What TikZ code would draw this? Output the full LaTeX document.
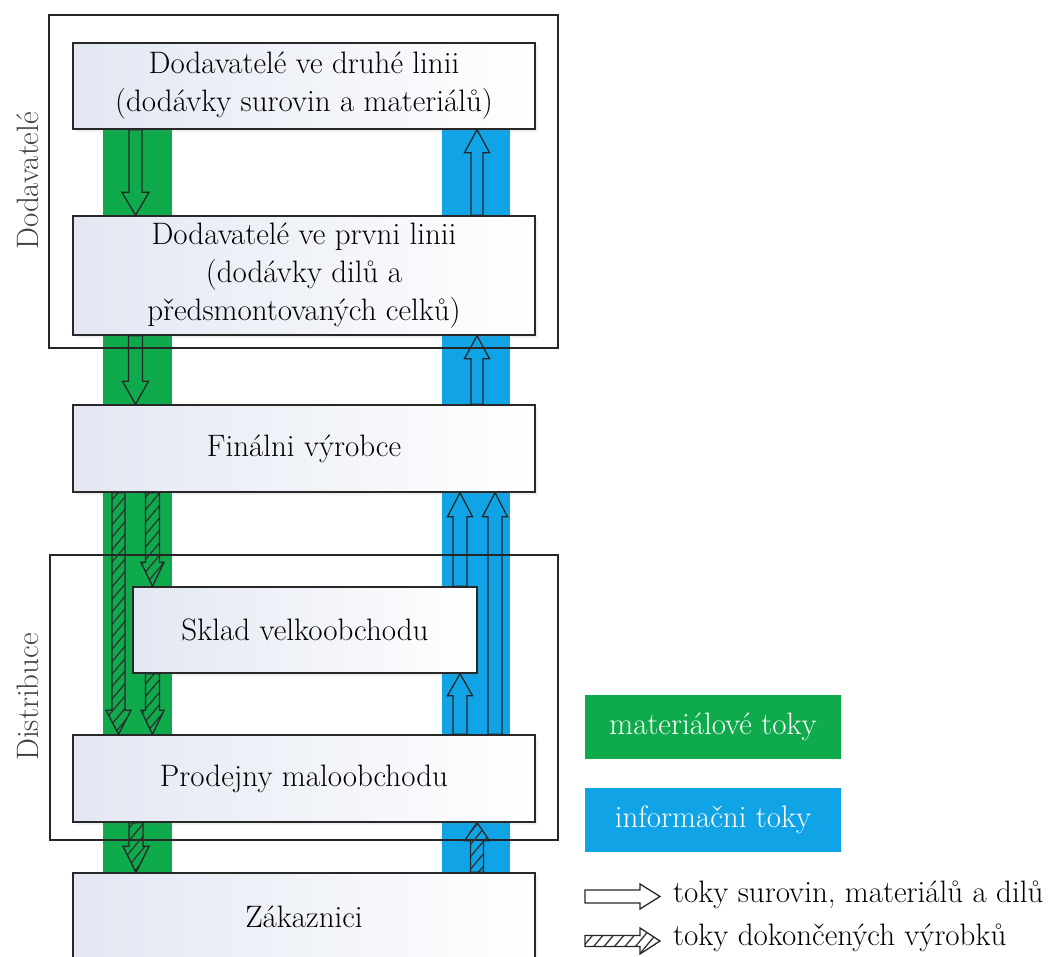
\documentclass[tikz,border=0pt]{standalone}
\usepackage{fontspec}
\usetikzlibrary{calc,patterns.meta,shadows}
\definecolor{gband}{RGB}{14,170,76}
\definecolor{bband}{RGB}{16,164,230}
\definecolor{boxL}{RGB}{226,231,242}
\definecolor{edge}{RGB}{40,40,40}
\newcommand\varrow[6]{\draw[#1] let \p1=(#2), \p2=(#3), \n1={ifthenelse(\y2>\y1,1,-1)} in
  (\x1-#4,\y1) -- (\x1-#4,\y2-\n1*#6) -- (\x1-#5,\y2-\n1*#6) -- (\x1,\y2) --
  (\x1+#5,\y2-\n1*#6) -- (\x1+#4,\y2-\n1*#6) -- (\x1+#4,\y1) -- cycle;}
\newcommand\harrow[6]{\draw[#1] let \p1=(#2), \p2=(#3), \n1={ifthenelse(\x2>\x1,1,-1)} in
  (\x1,\y1-#4) -- (\x2-\n1*#6,\y1-#4) -- (\x2-\n1*#6,\y1-#5) -- (\x2,\y1) --
  (\x2-\n1*#6,\y1+#5) -- (\x2-\n1*#6,\y1+#4) -- (\x1,\y1+#4) -- cycle;}
\tikzset{
  chainbox/.style={draw=edge, line width=1.4pt, left color=boxL, right color=white,
    drop shadow={opacity=0.12, shadow xshift=3pt, shadow yshift=-3pt},
    font=\fontsize{31}{38}\selectfont, align=center, text=black, inner sep=0pt},
  frame/.style={draw=black!85, line width=1.5pt},
  hollow/.style={draw=black!85, line width=1.3pt, line join=miter},
  hatched/.style={hollow, pattern={Lines[angle=50,distance=8pt,line width=1.3pt]}, pattern color=black!80},
  sidelabel/.style={rotate=90, font=\fontsize{31}{38}\selectfont, text=black!75, inner sep=0pt},
  legendbox/.style={minimum width=256pt, minimum height=64pt, inner sep=0pt,
    font=\fontsize{31}{38}\selectfont, text=white},
  legendtext/.style={font=\fontsize{31}{38}\selectfont, anchor=base west, inner sep=0pt, text=black}
}
\begin{document}
\begin{tikzpicture}[x=1pt,y=-1pt]
\useasboundingbox (0,0) rectangle (1050,957);
\clip (0,0) rectangle (1050,957);
% bands
\fill[gband] (103,129) rectangle (172,873);
\fill[bband] (442,129) rectangle (510,873);
% boxes
\node[chainbox, minimum width=462pt, minimum height=86pt] (b1) at (304,86)
  {Dodavatelé ve druhé linii\\(dodávky surovin a materiálů)};
\node[chainbox, minimum width=462pt, minimum height=119pt] (b2) at (304,275.5)
  {Dodavatelé ve prvni linii\\(dodávky dilů a\\předsmontovaných celků)};
\node[chainbox, minimum width=462pt, minimum height=87pt] (b3) at (304,448.5) {Finálni výrobce};
\node[chainbox, minimum width=344pt, minimum height=86pt] (b4) at (305,630) {Sklad velkoobchodu};
\node[chainbox, minimum width=462pt, minimum height=87pt] (b5) at (304,778.5) {Prodejny maloobchodu};
\node[chainbox, minimum width=462pt, minimum height=87pt] (b6) at (304,916.5) {Zákaznici};
% frames
\draw[frame] (49,15) rectangle (558,348);
\draw[frame] (50,555) rectangle (558,840);
\node[sidelabel] (sd1) at (28,181) {Dodavatelé};
\node[sidelabel] (sd2) at (28,697) {Distribuce};
% arrow columns
\coordinate (gA) at (135.5,0);
\coordinate (gL) at (118.5,0);
\coordinate (gR) at (152.5,0);
\coordinate (gB) at (136,0);
\coordinate (bA) at (477,0);
\coordinate (bL) at (460,0);
\coordinate (bR) at (495,0);
% material flows
\varrow{hollow}{b1.south -| gA}{b2.north -| gA}{6.5pt}{13.5pt}{23pt}
\varrow{hollow}{b2.south -| gA}{b3.north -| gA}{7pt}{13pt}{23pt}
\varrow{hatched}{b3.south -| gL}{b5.north -| gL}{6.5pt}{12.5pt}{24pt}
\varrow{hatched}{b3.south -| gR}{b4.north -| gR}{7pt}{11.5pt}{24pt}
\varrow{hatched}{b4.south -| gR}{b5.north -| gR}{7pt}{11.5pt}{24pt}
\varrow{hatched}{b5.south -| gB}{b6.north -| gB}{7pt}{13pt}{26pt}
% information flows
\varrow{hollow}{b2.north -| bA}{b1.south -| bA}{6pt}{12.5pt}{23pt}
\varrow{hollow}{b3.north -| bA}{b2.south -| bA}{6pt}{12.5pt}{23pt}
\varrow{hollow}{b4.north -| bL}{b3.south -| bL}{7pt}{12.5pt}{24pt}
\varrow{hollow}{b5.north -| bR}{b3.south -| bR}{7pt}{12.5pt}{24pt}
\varrow{hollow}{b5.north -| bL}{b4.south -| bL}{7pt}{12.5pt}{22pt}
\varrow{hatched}{b6.north -| bA}{b5.south -| bA}{6.5pt}{12.5pt}{18pt}
% legend
\node[legendbox, fill=gband] (lg) at (713,727) {materiálové toky};
\node[legendbox, fill=bband] (lb) at (713,820) {informačni toky};
\coordinate (l1s) at (585,896.5);
\coordinate (l1e) at (660,896.5);
\coordinate (l2s) at (585,941);
\coordinate (l2e) at (660,941);
\harrow{hollow}{l1s}{l1e}{6.5pt}{12.5pt}{20pt}
\harrow{hatched}{l2s}{l2e}{5.5pt}{13pt}{20pt}
\node[legendtext] (lt1) at (673,902) {toky surovin, materiálů a dilů};
\node[legendtext] (lt2) at (673,945) {toky dokončených výrobků};
\end{tikzpicture}
\end{document}
